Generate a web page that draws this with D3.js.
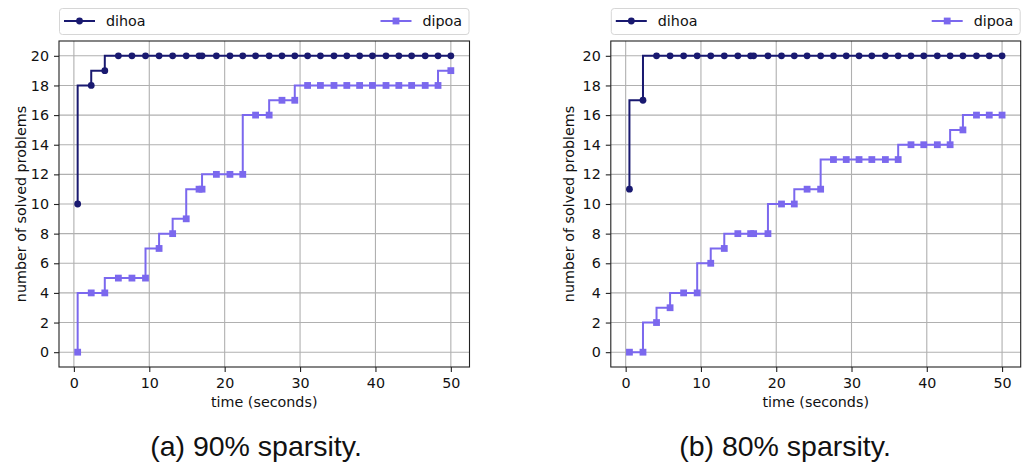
<!DOCTYPE html>
<html>
<head>
<meta charset="utf-8">
<script src="https://cdn.jsdelivr.net/npm/d3@7/dist/d3.min.js"></script>
<style>
  html, body { margin: 0; padding: 0; background: #ffffff; }
  svg { display: block; }
  .tick text { font-family: "DejaVu Sans", sans-serif; }
</style>
</head>
<body>
<svg id="chart" width="1022" height="464"></svg>
<script>
// Sample times (seconds) shared by both solvers
const times = [0.5, 2.3, 4.1, 5.9, 7.7, 9.5, 11.3, 13.1, 14.9, 16.6, 17.0, 18.9, 20.7, 22.4, 24.1,
               25.9, 27.6, 29.3, 31.0, 32.7, 34.5, 36.2, 37.9, 39.6, 41.4, 43.1, 44.8, 46.6, 48.3, 50.0];

// 90% sparsity: cumulative number of solved problems
const dihoa90 = [10, 18, 19, 20, 20, 20, 20, 20, 20, 20, 20, 20, 20, 20, 20,
                 20, 20, 20, 20, 20, 20, 20, 20, 20, 20, 20, 20, 20, 20, 20];
const dipoa90 = [0, 4, 4, 5, 5, 5, 7, 8, 9, 11, 11, 12, 12, 12, 16,
                 16, 17, 17, 18, 18, 18, 18, 18, 18, 18, 18, 18, 18, 18, 19];

// 80% sparsity
const dihoa80 = [11, 17, 20, 20, 20, 20, 20, 20, 20, 20, 20, 20, 20, 20, 20,
                 20, 20, 20, 20, 20, 20, 20, 20, 20, 20, 20, 20, 20, 20, 20];
const dipoa80 = [0, 0, 2, 3, 4, 4, 6, 7, 8, 8, 8, 8, 10, 10, 11,
                 11, 13, 13, 13, 13, 13, 13, 14, 14, 14, 14, 15, 16, 16, 16];

const xTicks = [0, 10, 20, 30, 40, 50];
const yTicks = [0, 2, 4, 6, 8, 10, 12, 14, 16, 18, 20];
const seriesNames = ["dihoa", "dipoa"];
const captions = ["(a) 90% sparsity.", "(b) 80% sparsity."];

const COLORS = { dihoa: "#191970", dipoa: "#7b68ee" };
const FONT = "DejaVu Sans, sans-serif";
const FS = 14.3;

const svg = d3.select("#chart");

function drawPanel(opts) {
  const { left, right, top, bottom, series, caption, captionX, ylabelOffset } = opts;

  const x = d3.scaleLinear().domain([-1.975, 52.475]).range([left, right]);
  const y = d3.scaleLinear().domain([-1, 21]).range([bottom, top]);

  const g = svg.append("g");

  // grid
  g.append("g").selectAll("line").data(xTicks).join("line")
    .attr("x1", d => x(d)).attr("x2", d => x(d))
    .attr("y1", top).attr("y2", bottom)
    .attr("stroke", "#b0b0b0").attr("stroke-width", 1.1);
  g.append("g").selectAll("line").data(yTicks).join("line")
    .attr("x1", left).attr("x2", right)
    .attr("y1", d => y(d)).attr("y2", d => y(d))
    .attr("stroke", "#b0b0b0").attr("stroke-width", 1.1);

  // axes
  const xAxis = g.append("g")
    .attr("transform", `translate(0,${bottom})`)
    .call(d3.axisBottom(x).tickValues(xTicks).tickSize(5).tickPadding(6).tickFormat(d3.format("d")));
  const yAxis = g.append("g")
    .attr("transform", `translate(${left},0)`)
    .call(d3.axisLeft(y).tickValues(yTicks).tickSize(5).tickPadding(5).tickFormat(d3.format("d")));
  [xAxis, yAxis].forEach(a => {
    a.select(".domain").remove();
    a.selectAll(".tick line").attr("stroke", "#222").attr("stroke-width", 1.1);
    a.selectAll(".tick text").attr("fill", "#111").style("font-size", FS + "px").style("font-family", FONT);
  });

  // series
  series.forEach(s => {
    const pts = times.map((t, i) => [t, s.values[i]]);
    const line = d3.line().x(d => x(d[0])).y(d => y(d[1])).curve(d3.curveStepBefore);
    const sg = g.append("g");
    sg.append("path").attr("d", line(pts))
      .attr("fill", "none").attr("stroke", COLORS[s.name]).attr("stroke-width", 2);
    if (s.name === "dihoa") {
      sg.selectAll("circle").data(pts).join("circle")
        .attr("cx", d => x(d[0])).attr("cy", d => y(d[1])).attr("r", 3.4)
        .attr("fill", COLORS[s.name]);
    } else {
      sg.selectAll("rect").data(pts).join("rect")
        .attr("x", d => x(d[0]) - 3.4).attr("y", d => y(d[1]) - 3.4)
        .attr("width", 6.8).attr("height", 6.8)
        .attr("fill", COLORS[s.name]);
    }
  });

  // frame
  g.append("rect").attr("x", left).attr("y", top)
    .attr("width", right - left).attr("height", bottom - top)
    .attr("fill", "none").attr("stroke", "#222").attr("stroke-width", 1.1);

  // axis labels
  g.append("text").attr("x", (left + right) / 2).attr("y", bottom + 40)
    .attr("text-anchor", "middle").attr("font-family", FONT).attr("font-size", FS)
    .attr("fill", "#111").text("time (seconds)");
  g.append("text")
    .attr("transform", `translate(${left - ylabelOffset},${(top + bottom) / 2}) rotate(-90)`)
    .attr("text-anchor", "middle").attr("font-family", FONT).attr("font-size", FS)
    .attr("fill", "#111").text("number of solved problems");

  // legend spanning the axes width
  const lg = g.append("g");
  lg.append("rect").attr("x", left + 0.5).attr("y", 8.5)
    .attr("width", right - left - 1).attr("height", 26).attr("rx", 3)
    .attr("fill", "#fff").attr("stroke", "#d6d6d6").attr("stroke-width", 1);
  const ly = 21;
  const entries = [
    { name: seriesNames[0], x0: left + 5 },
    { name: seriesNames[1], x0: right - 89 }
  ];
  entries.forEach(e => {
    lg.append("line").attr("x1", e.x0).attr("x2", e.x0 + 31).attr("y1", ly).attr("y2", ly)
      .attr("stroke", COLORS[e.name]).attr("stroke-width", 2);
    if (e.name === "dihoa") {
      lg.append("circle").attr("cx", e.x0 + 15.5).attr("cy", ly).attr("r", 3.4).attr("fill", COLORS[e.name]);
    } else {
      lg.append("rect").attr("x", e.x0 + 15.5 - 3.4).attr("y", ly - 3.4)
        .attr("width", 6.8).attr("height", 6.8).attr("fill", COLORS[e.name]);
    }
    lg.append("text").attr("x", e.x0 + 42).attr("y", ly + 5)
      .attr("font-family", FONT).attr("font-size", FS).attr("fill", "#111").text(e.name);
  });

  // caption
  svg.append("text").attr("x", captionX).attr("y", 456)
    .attr("text-anchor", "middle").attr("font-family", "Liberation Sans, Arial, sans-serif")
    .attr("font-size", 28.5).attr("fill", "#111").text(caption);
}

drawPanel({
  left: 59, right: 469.5, top: 41, bottom: 367,
  series: [{ name: "dihoa", values: dihoa90 }, { name: "dipoa", values: dipoa90 }],
  caption: captions[0], captionX: 256, ylabelOffset: 33
});
drawPanel({
  left: 610.8, right: 1020.7, top: 41, bottom: 367,
  series: [{ name: "dihoa", values: dihoa80 }, { name: "dipoa", values: dipoa80 }],
  caption: captions[1], captionX: 785, ylabelOffset: 37
});
</script>
</body>
</html>
